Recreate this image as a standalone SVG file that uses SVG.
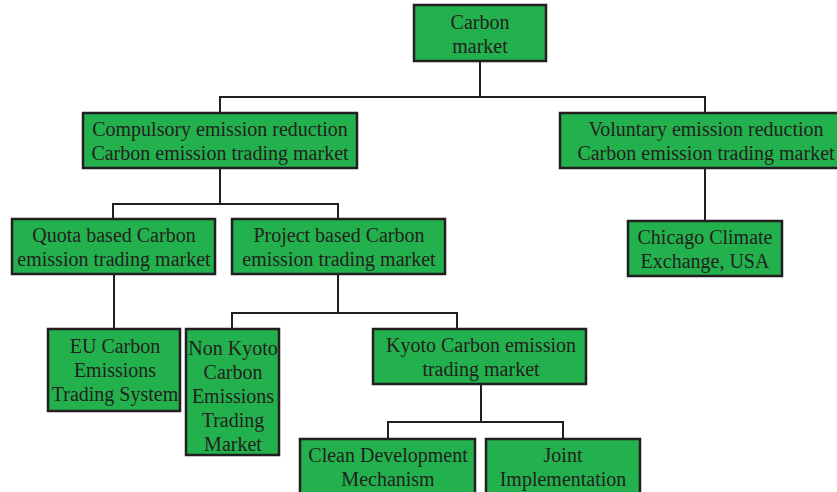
<svg xmlns="http://www.w3.org/2000/svg" width="837" height="492" viewBox="0 0 837 492">
<style>
.box{fill:#22b14c;stroke:#231f20;stroke-width:2.5}
.t{font-family:"Liberation Serif","Times New Roman",serif;font-size:20px;fill:#231f20;text-anchor:middle}
.c{fill:none;stroke:#231f20;stroke-width:2}
</style>
<rect width="837" height="492" fill="#ffffff"/>
<g id="connectors">
<path class="c" d="M480,61V97M220,113V97H705V113"/>
<path class="c" d="M220,168V204M113,219V204H338V219"/>
<path class="c" d="M705,168V221"/>
<path class="c" d="M114,274V329"/>
<path class="c" d="M338,274V313M232,329V313H457V329"/>
<path class="c" d="M481,384V422M388,439V422H563V439"/>
</g>
<g id="carbon-market">
<rect class="box" x="414" y="5" width="132" height="56"/>
<text class="t" x="480" y="28.5">Carbon</text>
<text class="t" x="480" y="52.5">market</text>
</g>
<g id="compulsory">
<rect class="box" x="83" y="113" width="274" height="55"/>
<text class="t" x="220" y="135.5">Compulsory emission reduction</text>
<text class="t" x="220" y="159.5">Carbon emission trading market</text>
</g>
<g id="voluntary">
<rect class="box" x="560" y="113" width="290" height="55"/>
<text class="t" x="706" y="135.5">Voluntary emission reduction</text>
<text class="t" x="706" y="159.5">Carbon emission trading market</text>
</g>
<g id="quota">
<rect class="box" x="12" y="219" width="203" height="55"/>
<text class="t" x="114" y="241.5">Quota based Carbon</text>
<text class="t" x="114" y="265.5">emission trading market</text>
</g>
<g id="project">
<rect class="box" x="232" y="219" width="213" height="55"/>
<text class="t" x="339" y="241.5">Project based Carbon</text>
<text class="t" x="339" y="265.5">emission trading market</text>
</g>
<g id="chicago">
<rect class="box" x="628" y="221" width="154" height="55"/>
<text class="t" x="705" y="243.5">Chicago Climate</text>
<text class="t" x="705" y="267.5">Exchange, USA</text>
</g>
<g id="eu">
<rect class="box" x="48" y="329" width="132" height="82"/>
<text class="t" x="115" y="353">EU Carbon</text>
<text class="t" x="115" y="377">Emissions</text>
<text class="t" x="115" y="401">Trading System</text>
</g>
<g id="non-kyoto">
<rect class="box" x="186" y="329" width="93" height="126"/>
<text class="t" x="233" y="355">Non Kyoto</text>
<text class="t" x="233" y="379">Carbon</text>
<text class="t" x="233" y="403">Emissions</text>
<text class="t" x="233" y="427">Trading</text>
<text class="t" x="233" y="451">Market</text>
</g>
<g id="kyoto">
<rect class="box" x="373" y="329" width="213" height="55"/>
<text class="t" x="481" y="352">Kyoto Carbon emission</text>
<text class="t" x="481" y="376">trading market</text>
</g>
<g id="cdm">
<rect class="box" x="300" y="439" width="175" height="60"/>
<text class="t" x="388" y="462">Clean Development</text>
<text class="t" x="388" y="486">Mechanism</text>
</g>
<g id="joint">
<rect class="box" x="486" y="439" width="154" height="60"/>
<text class="t" x="563" y="462">Joint</text>
<text class="t" x="563" y="486">Implementation</text>
</g>
</svg>
